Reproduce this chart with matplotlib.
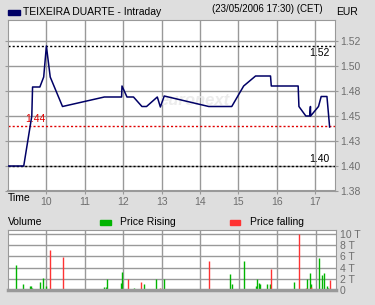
import matplotlib
matplotlib.use('Agg')
import matplotlib.pyplot as plt

plt.rcParams['font.family'] = ['Liberation Sans', 'DejaVu Sans']

# intraday price (hour of day, EUR)
price_t = [9.00, 9.41, 9.62, 9.64, 9.83, 9.93, 10.00, 10.10, 10.42, 11.51, 11.96, 11.97,
           12.10, 12.27, 12.49, 12.61, 12.89, 12.97, 13.07, 14.23, 14.83, 15.14, 15.45,
           15.84, 15.86, 16.56, 16.58, 16.76, 16.86, 16.88, 16.885, 17.09, 17.16, 17.31, 17.38]
price_v = [1.400, 1.400, 1.450, 1.479, 1.479, 1.489, 1.520, 1.489, 1.4595, 1.469, 1.469, 1.480,
           1.469, 1.469, 1.4595, 1.4595, 1.469, 1.459, 1.470, 1.4595, 1.4595, 1.480, 1.490,
           1.490, 1.480, 1.480, 1.4595, 1.450, 1.450, 1.4595, 1.450, 1.4595, 1.4695, 1.4695, 1.439]

# volume (thousands)
rise_t = [9.22, 9.40, 9.58, 9.61, 9.63, 9.82, 9.92, 10.00, 11.51, 11.56, 11.585, 11.95, 11.97,
          12.29, 12.55, 12.86, 13.07, 14.78, 14.83, 15.14, 15.45, 15.48, 15.53, 15.55, 15.73,
          15.81, 16.44, 16.78, 16.86, 16.89, 17.09, 17.17, 17.22, 17.30, 17.33]
rise_v = [4.4, 1.15, 0.8, 0.8, 0.3, 1.5, 2.2, 0.8, 0.6, 0.6, 2.0, 1.3, 3.15,
          0.3, 1.15, 2.0, 2.0, 2.8, 1.0, 5.15, 0.8, 2.0, 1.3, 1.15, 1.15,
          1.15, 1.5, 2.0, 3.1, 1.15, 5.7, 2.6, 3.0, 0.8, 0.4]
fall_t = [10.10, 10.42, 12.13, 12.47, 12.96, 14.23, 15.84, 16.58, 16.75, 16.88, 17.37]
fall_v = [7.1, 5.9, 2.0, 1.5, 0.4, 5.15, 3.7, 9.9, 0.4, 0.6, 1.7]

hours = [10, 11, 12, 13, 14, 15, 16, 17]
price_ticks = [1.375, 1.40, 1.425, 1.45, 1.475, 1.50, 1.525]
price_labels = ['1.38', '1.40', '1.43', '1.45', '1.48', '1.50', '1.52']
vol_ticks = [0, 2, 4, 6, 8, 10]
vol_labels = ['0', '2 T', '4 T', '6 T', '8 T', '10 T']
ref_lines = [1.52, 1.40]
last_close = 1.44

bg = '#dedede'
grid_c = '#999999'
tick_c = '#6e6e6e'
navy = '#000066'
green = '#00b400'
red = '#ff3333'

W, H = 375, 305
fig = plt.figure(figsize=(W / 100, H / 100), dpi=100)
fig.patch.set_facecolor(bg)

def frac(x0, y0, x1, y1):
    return [x0 / W, 1 - y1 / H, (x1 - x0) / W, (y1 - y0) / H]

xlim = (9.0, 17.52)

# ---- price panel
ax = fig.add_axes(frac(8, 20, 335, 191))
ax.set_facecolor('white')
ax.set_xlim(*xlim)
ax.set_ylim(1.375, 1.546)
ax.set_xticks(hours)
ax.set_xticklabels([str(h) for h in hours])
ax.set_yticks(price_ticks)
ax.set_yticklabels(price_labels)
ax.yaxis.tick_right()
ax.tick_params(axis='both', colors=grid_c, labelcolor=tick_c, labelsize=7.5, length=2, pad=2)
ax.tick_params(axis='y', left=True, right=True)
ax.grid(True, color=grid_c, lw=1)
ax.set_axisbelow(True)
for s in ax.spines.values():
    s.set_color(grid_c)
ax.spines['bottom'].set_linewidth(1.5)

ax.text(13.85, 1.4655, 'euronext', color='#ececec', fontsize=12, fontweight='bold',
        style='italic', ha='center', va='center', zorder=1)

for lv in ref_lines:
    ax.axhline(lv, color='black', lw=1, ls=(0, (1.5, 1.5)), zorder=2)
ax.axhline(last_close, color='#e00000', lw=1, ls=(0, (1.5, 1.5)), zorder=2)
ax.text(17.37, 1.52 - 0.0025, '1.52', ha='right', va='top', fontsize=7.5, color='black')
ax.text(17.37, 1.40 + 0.0025, '1.40', ha='right', va='bottom', fontsize=7.5, color='black')
ax.text(9.45, last_close + 0.0025, '1.44', ha='left', va='bottom', fontsize=7.5, color='#e00000')

ax.plot(price_t, price_v, color=navy, lw=1.1, zorder=3)

fig.text(8 / W, 1 - 198 / H, 'Time', fontsize=7.5, color='black', va='center', ha='left')

# ---- header
fig.patches.append(plt.Rectangle((8 / W, 1 - 14.5 / H), 12 / W, 4.5 / H,
                                 transform=fig.transFigure, color=navy))
fig.text(23 / W, 1 - 12 / H, 'TEIXEIRA DUARTE - Intraday', fontsize=7.5, va='center', ha='left')
fig.text(212 / W, 1 - 9 / H, '(23/05/2006 17:30) (CET)', fontsize=7, va='center', ha='left')
fig.text(336 / W, 1 - 12 / H, 'EUR', fontsize=7.5, va='center', ha='left')

# ---- legend row
fig.text(8 / W, 1 - 222 / H, 'Volume', fontsize=7.5, va='center', ha='left')
fig.patches.append(plt.Rectangle((100 / W, 1 - 225 / H), 10.5 / W, 5.5 / H,
                                 transform=fig.transFigure, color=green))
fig.text(120 / W, 1 - 222 / H, 'Price Rising', fontsize=7.5, va='center', ha='left')
fig.patches.append(plt.Rectangle((230 / W, 1 - 225 / H), 10.5 / W, 5.5 / H,
                                 transform=fig.transFigure, color=red))
fig.text(250 / W, 1 - 222 / H, 'Price falling', fontsize=7.5, va='center', ha='left')

# ---- volume panel
vx = fig.add_axes(frac(8, 230, 335.5, 290))
vx.set_facecolor('white')
vx.set_xlim(*xlim)
vx.set_ylim(0, 10.7)
vx.set_xticks(hours)
vx.set_xticklabels([])
vx.set_yticks(vol_ticks)
vx.set_yticklabels(vol_labels)
vx.yaxis.tick_right()
vx.tick_params(axis='both', colors=grid_c, labelcolor=tick_c, labelsize=7.5, length=0, pad=3)
vx.grid(True, color=grid_c, lw=1)
vx.set_axisbelow(True)
for s in vx.spines.values():
    s.set_color(grid_c)
vx.spines['bottom'].set_linewidth(2.5)

vx.vlines(rise_t, 0, rise_v, color=green, lw=1.0)
vx.vlines(fall_t, 0, fall_v, color=red, lw=1.0)

fig.savefig('out.png', dpi=100, facecolor=bg)
